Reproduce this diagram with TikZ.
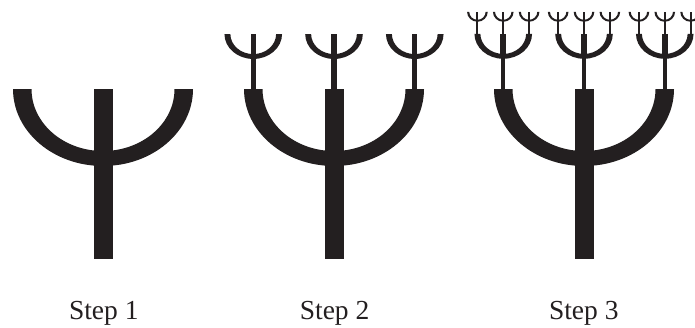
\documentclass[tikz,border=0pt]{standalone}
\usepackage{fontspec}
\setmainfont{Liberation Serif}
\definecolor{ink}{HTML}{231F20}
% #1 cx, #2 top y, #3 xscale, #4 yscale, #5 upper stem half-width, #6 lower stem half-width
\newcommand\psiglyph[6]{%
  \begin{scope}[shift={(#1,#2)},xscale=#3,yscale=#4]
    \fill[ink] (-90,0) arc[start angle=180,end angle=0,x radius=90,y radius=77]
      -- (71.5,0) arc[start angle=0,end angle=180,x radius=71.5,y radius=62] -- cycle;
    \fill[ink] (-#5,0) rectangle (#5,70);
    \fill[ink] (-#6,69) rectangle (#6,170);
  \end{scope}}
\begin{document}
\begin{tikzpicture}[x=1pt,y=-1pt,
  steplabel/.style={anchor=base,inner sep=0pt,font=\fontsize{27.5}{30}\selectfont,text=ink}]
\clip (0,0) rectangle (695,327);
\fill[white] (0,0) rectangle (695,327);
% Step 1
\psiglyph{103}{89}{1}{1}{9.5}{9.5}
% Step 2
\psiglyph{334}{89}{1}{1}{9.5}{9.5}
\foreach \dx in {-80.75,0,80.75}{
  \psiglyph{334+\dx}{34}{0.32}{0.324}{8.5}{8}
}
% Step 3
\psiglyph{584}{89}{1}{1}{9.5}{9.5}
\foreach \dx in {-80.75,0,80.75}{
  \psiglyph{584+\dx}{33.75}{0.32}{0.325}{9.5}{6.5}
  \foreach \ddx in {-25.84,0,25.84}{
    \psiglyph{584+\dx+\ddx}{11.75}{0.115}{0.13}{9}{8}
  }
}
\node[steplabel] (s1) at (103.8,319) {Step 1};
\node[steplabel] (s2) at (334.6,319) {Step 2};
\node[steplabel] (s3) at (583.8,319) {Step 3};
\end{tikzpicture}
\end{document}
